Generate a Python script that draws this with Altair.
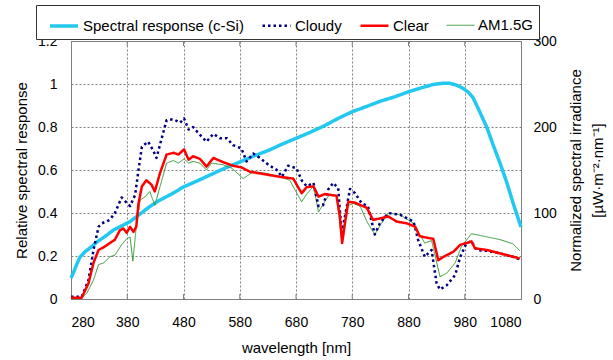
import altair as alt
import pandas as pd

# ---- data ----
series_names = ["Spectral response (c-Si)", "Cloudy", "Clear", "AM1.5G"]
series_colors = ["#22C8F0", "#000080", "#FF0000", "#339933"]

x_ticks = [280, 380, 480, 580, 680, 780, 880, 980, 1080]
inner_ticks = [380, 480, 580, 680, 780, 880, 980]
left_ticks = [0, 0.2, 0.4, 0.6, 0.8, 1.0, 1.2]
right_ticks = [0, 100, 200, 300]

sr_wl = [280, 284, 290, 296, 305, 315, 326, 340, 355, 370, 385, 400, 420, 438, 460,
         479, 505, 530, 555, 580, 605, 630, 655, 687, 705, 730, 755, 779, 805, 830,
         855, 879, 900, 924, 940, 954, 965, 977, 987, 995, 1005, 1019, 1030, 1043,
         1055, 1066, 1080]
sr_val = [0.098, 0.12, 0.16, 0.195, 0.22, 0.24, 0.265, 0.29, 0.32, 0.34, 0.36, 0.39,
          0.43, 0.46, 0.49, 0.52, 0.55, 0.58, 0.61, 0.637, 0.665, 0.69, 0.72, 0.755,
          0.775, 0.805, 0.84, 0.87, 0.895, 0.92, 0.94, 0.963, 0.98, 0.998, 1.003,
          1.003, 0.995, 0.98, 0.96, 0.935, 0.88, 0.8, 0.72, 0.63, 0.54, 0.446, 0.335]

cloudy_wl = [280, 299, 311, 320, 329, 335, 349, 358, 370, 379, 385, 394, 400, 406, 417,
             426, 432, 438, 450, 462, 474, 481, 489, 497, 509, 521, 533, 545, 557, 568,
             583, 592, 604, 616, 631, 646, 655, 666, 681, 690, 699, 711, 720, 728, 737,
             746, 755, 761, 767, 776, 785, 797, 808, 820, 829, 844, 865, 889, 897, 909,
             921, 930, 936, 948, 963, 972, 983, 992, 1001, 1019, 1043, 1066, 1078]
cloudy_val = [2.5, 2.5, 22, 57, 84, 88, 92, 100, 118, 112, 108, 121, 150, 177, 183,
              173, 164, 179, 208, 209, 205, 210, 197, 200, 191, 183, 192, 187, 187, 179,
              175, 160, 169, 164, 156, 150, 142, 155, 152, 138, 131, 135, 108, 109, 127,
              135, 129, 77, 96, 128, 123, 111, 108, 75, 88, 100, 98, 90, 69, 49,
              57, 18, 11, 16, 28, 49, 65, 67, 57, 56, 53, 49, 46]

clear_wl = [280, 299, 311, 320, 329, 340, 349, 358, 367, 373, 379, 385, 391, 396, 400,
            406, 414, 423, 429, 438, 450, 462, 471, 481, 489, 497, 509, 521, 533, 551,
            568, 583, 598, 616, 634, 652, 675, 690, 699, 711, 720, 731, 752, 758, 762,
            767, 773, 785, 806, 817, 832, 844, 859, 877, 892, 900, 915, 924, 933, 942,
            960, 972, 983, 992, 998, 1019, 1043, 1078]
clear_val = [1.5, 1.5, 18, 42, 57, 61, 65, 69, 80, 82, 77, 84, 78, 84, 111,
             131, 138, 133, 125, 146, 168, 170, 168, 174, 162, 166, 163, 154, 164, 159,
             155, 153, 148, 146, 144, 142, 140, 123, 130, 131, 119, 122, 120, 96, 65,
             88, 113, 112, 106, 92, 94, 96, 90, 88, 84, 73, 71, 70, 45, 49,
             55, 63, 65, 67, 59, 57, 53, 47]

am_wl = [280, 299, 308, 320, 329, 338, 349, 358, 370, 379, 385, 390, 396, 403, 412,
         420, 429, 438, 450, 462, 471, 481, 489, 497, 509, 521, 530, 551, 566, 586,
         604, 628, 652, 669, 690, 699, 711, 720, 731, 740, 752, 762, 770, 782, 794,
         806, 820, 832, 844, 865, 889, 897, 909, 921, 936, 948, 963, 974, 992, 1043,
         1066, 1078]
am_val = [0, 1.5, 6.5, 22, 40, 42, 49, 51, 63, 70, 72, 44, 84, 115, 119,
          125, 109, 130, 158, 161, 158, 163, 158, 160, 158, 150, 158, 156, 152, 140,
          148, 146, 142, 138, 113, 122, 131, 101, 113, 122, 120, 65, 108, 111, 108,
          90, 75, 88, 100, 98, 88, 78, 65, 68, 26, 30, 42, 61, 76, 69,
          64, 56]

# ---- tables ----
sr_df = pd.DataFrame({"wl": sr_wl, "val": sr_val, "series": series_names[0]})
irr_df = pd.concat([
    pd.DataFrame({"wl": am_wl, "val": am_val, "series": "AM1.5G", "order": 0}),
    pd.DataFrame({"wl": cloudy_wl, "val": cloudy_val, "series": "Cloudy", "order": 1}),
    pd.DataFrame({"wl": clear_wl, "val": clear_val, "series": "Clear", "order": 2}),
], ignore_index=True)
tick_df = pd.DataFrame({"t": inner_ticks})

FONT = "Liberation Sans"
GRID = "#808080"

color = alt.Color("series:N", title=None,
                  scale=alt.Scale(domain=series_names, range=series_colors),
                  legend=alt.Legend(orient="none", legendX=-35, legendY=-36,
                                    direction="horizontal", symbolType="stroke",
                                    symbolSize=784, labelFontSize=15, labelFont=FONT,
                                    labelColor="#000", labelLimit=400, columnPadding=10,
                                    labelOffset=3, symbolOffset=7, padding=5,
                                    strokeColor="#333", fillColor="white"))
dash = alt.StrokeDash("series:N", title=None,
                      scale=alt.Scale(domain=series_names,
                                      range=[[1, 0], [2.5, 3], [1, 0], [1, 0]]))
width = alt.StrokeWidth("series:N", title=None,
                        scale=alt.Scale(type="ordinal", domain=series_names,
                                        range=[3.5, 2.5, 2.5, 1]))

xenc = alt.X("wl:Q", scale=alt.Scale(domain=[280, 1080], nice=False, zero=False),
             axis=alt.Axis(values=x_ticks, format="d", title="wavelength [nm]", grid=True,
                           gridDash=[2, 2], gridColor=GRID, gridOpacity=1,
                           ticks=False, tickSize=0, domain=False, labelPadding=16,
                           labelFontSize=14, labelFont=FONT, labelColor="#000",
                           titleFontSize=15, titleFont=FONT, titleFontWeight="normal",
                           titleColor="#000", titleX=225, titleY=48,
                           titleBaseline="middle", titleAlign="center"))

sr_layer = alt.Chart(sr_df).mark_line(strokeCap="butt", strokeJoin="round").encode(
    x=xenc,
    y=alt.Y("val:Q", scale=alt.Scale(domain=[0, 1.2], nice=False),
            axis=alt.Axis(values=left_ticks, format="~g", title="Relative spectral response",
                          grid=True, gridDash=[2, 2], gridColor=GRID, gridOpacity=1,
                          ticks=False, tickSize=0, domain=False, labelPadding=14,
                          labelFontSize=14, labelFont=FONT, labelColor="#000",
                          titleFontSize=15, titleFont=FONT, titleFontWeight="normal",
                          titleColor="#000", titleX=-50, titleY=129, titleAngle=270,
                          titleBaseline="middle", titleAlign="center")),
    color=color, strokeDash=dash, strokeWidth=width,
)

irr_layer = alt.Chart(irr_df).mark_line(strokeCap="butt", strokeJoin="round").encode(
    x=alt.X("wl:Q"),
    y=alt.Y("val:Q", scale=alt.Scale(domain=[0, 300], nice=False),
            axis=alt.Axis(orient="right", values=right_ticks,
                          title=["Normalized spectral irradiance", "[µW·m⁻²·nm⁻¹]"],
                          grid=False, ticks=False, tickSize=0, domain=False,
                          labelPadding=12, labelFontSize=14, labelFont=FONT,
                          labelColor="#000", titleFontSize=15, titleFont=FONT,
                          titleFontWeight="normal", titleColor="#000",
                          titleX=54, titleY=129, titleAngle=270, titleLineHeight=22,
                          titleBaseline="middle", titleAlign="center")),
    color=color, strokeDash=dash, strokeWidth=width,
    detail="series:N", order="order:Q",
)

tick_bottom = alt.Chart(tick_df).mark_rule(color=GRID, strokeWidth=1).encode(
    x=alt.X("t:Q"), y=alt.value(258), y2=alt.value(253))
tick_top = alt.Chart(tick_df).mark_rule(color=GRID, strokeWidth=1).encode(
    x=alt.X("t:Q"), y=alt.value(0), y2=alt.value(5))

chart = alt.layer(tick_bottom, tick_top, sr_layer, irr_layer).resolve_scale(
    y="independent"
).properties(
    width=450, height=258,
    autosize=alt.AutoSizeParams(type="none"),
    padding={"left": 71, "top": 41, "right": 92, "bottom": 61},
    background="white",
).configure_view(stroke=GRID, strokeWidth=1)

chart.save("out.html", embed_options={"renderer": "svg", "actions": False})
